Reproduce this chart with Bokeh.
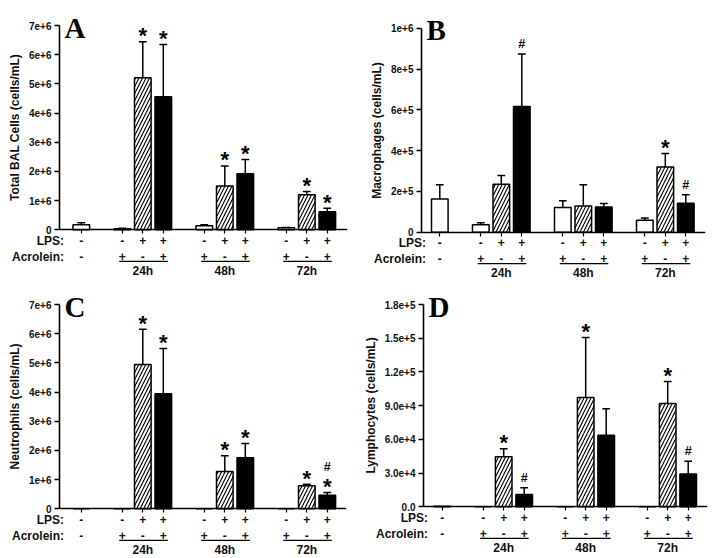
from bokeh.plotting import figure
from bokeh.layouts import column, row
from bokeh.models import (Range1d, FixedTicker, Label, ColumnDataSource, CustomLabelingPolicy)
from bokeh.core.properties import value
from bokeh.embed import file_html
from bokeh.resources import INLINE

# ---------------- data ----------------
positions = [0, 2, 3, 4, 6, 7, 8, 10, 11, 12]
bar_kind = ["white", "white", "hatch", "black", "white", "hatch", "black", "white", "hatch", "black"]
row_titles = ["LPS:", "Acrolein:"]
lps_row = ["-", "-", "+", "+", "-", "+", "+", "-", "+", "+"]
acrolein_row = ["-", "+", "-", "+", "+", "-", "+", "+", "-", "+"]
hour_labels = ["24h", "48h", "72h"]
hour_first = [2, 6, 10]
hour_mid = [3, 7, 11]
hour_last = [4, 8, 12]

total_bal = [0.17e6, 0.04e6, 5.21e6, 4.56e6, 0.14e6, 1.50e6, 1.92e6, 0.07e6, 1.20e6, 0.62e6]
total_bal_err = [0.07e6, 0.01e6, 1.23e6, 1.79e6, 0.03e6, 0.69e6, 0.49e6, 0.01e6, 0.11e6, 0.12e6]
total_bal_sig = ["", "", "*", "*", "", "*", "*", "", "*", "*"]

macrophages = [1.63e5, 0.36e5, 2.35e5, 6.16e5, 1.21e5, 1.29e5, 1.23e5, 0.59e5, 3.19e5, 1.42e5]
macrophages_err = [0.69e5, 0.10e5, 0.43e5, 2.58e5, 0.33e5, 1.03e5, 0.18e5, 0.11e5, 0.67e5, 0.41e5]
macrophages_sig = ["", "", "", "#", "", "", "", "", "*", "#"]

neutrophils = [0.0, 0.0, 4.94e6, 3.94e6, 0.0, 1.28e6, 1.75e6, 0.0, 0.79e6, 0.46e6]
neutrophils_err = [0.0, 0.0, 1.21e6, 1.55e6, 0.0, 0.54e6, 0.49e6, 0.0, 0.05e6, 0.10e6]
neutrophils_sig = ["", "", "*", "*", "", "*", "*", "", "*", "*#"]

lymphocytes = [400, 0, 4.45e4, 1.10e4, 100, 9.72e4, 6.37e4, 100, 9.19e4, 2.91e4]
lymphocytes_err = [0, 0, 0.71e4, 0.59e4, 0, 5.34e4, 2.35e4, 0, 1.96e4, 1.15e4]
lymphocytes_sig = ["", "", "*", "#", "", "*", "", "", "*", "#"]

ticks_7e6 = [0, 1e6, 2e6, 3e6, 4e6, 5e6, 6e6, 7e6]
ticklabels_7e6 = ["0", "1e+6", "2e+6", "3e+6", "4e+6", "5e+6", "6e+6", "7e+6"]
ticks_1e6 = [0, 2e5, 4e5, 6e5, 8e5, 1e6]
ticklabels_1e6 = ["0", "2e+5", "4e+5", "6e+5", "8e+5", "1e+6"]
ticks_18e5 = [0, 3e4, 6e4, 9e4, 1.2e5, 1.5e5, 1.8e5]
ticklabels_18e5 = ["0.0", "3.0e+4", "6.0e+4", "9.0e+4", "1.2e+5", "1.5e+5", "1.8e+5"]

# ---------------- layout constants (pixels) ----------------
PW, PH = 357, 279
PPU = 20.5          # pixels per bar slot
FONT = "Liberation Sans"
TXT = "#111111"


def make_panel(letter, vals, errs, sigs, ticks, ticklabels, ylabel,
               left, right, ctrl_px, top_px, zero_px):
    ymax = ticks[-1]
    upp = ymax / (zero_px - top_px)
    y0 = -(PH - zero_px) * upp
    y1 = ymax + top_px * upp
    xs_frame = -ctrl_px / PPU                 # data x at the panel's left edge
    xs_axis = -(ctrl_px - left) / PPU         # data x of the y axis line
    xe = xs_frame + (PW - right) / PPU

    p = figure(width=PW, height=PH, output_backend="svg", toolbar_location=None,
               x_range=Range1d(xs_frame, xe), y_range=Range1d(y0, y1),
               min_border_left=0, min_border_right=right,
               min_border_top=0, min_border_bottom=0)
    p.outline_line_color = None
    p.xgrid.visible = False
    p.ygrid.visible = False

    # y axis (drawn at its data location)
    ya = p.yaxis[0]
    ya.fixed_location = xs_axis
    ya.ticker = FixedTicker(ticks=ticks)
    ya.major_label_overrides = {t: l for t, l in zip(ticks, ticklabels)}
    ya.bounds = (0, ymax)
    ya.minor_tick_line_color = None
    ya.major_tick_in = 0
    ya.major_tick_out = 5
    ya.axis_line_width = 1.6
    ya.major_tick_line_width = 1.4
    ya.major_label_text_font = FONT
    ya.major_label_text_font_size = "10px"
    ya.major_label_text_font_style = "bold"
    ya.major_label_text_color = TXT
    ya.major_label_standoff = 3
    ya.axis_label = ylabel
    ya.axis_label_text_font = FONT
    ya.axis_label_text_font_size = "12px"
    ya.axis_label_text_font_style = "bold"
    ya.axis_label_text_color = TXT
    ya.axis_label_standoff = 4

    # x axis at zero (tick marks only)
    xa = p.xaxis[0]
    xa.fixed_location = 0
    xa.bounds = (xs_axis, xe)
    xa.ticker = FixedTicker(ticks=positions)
    xa.major_label_policy = CustomLabelingPolicy(
        code="const all = [...indices]; for (const i of all) indices.unset(i)")
    xa.major_label_standoff = 0
    xa.major_label_text_font_size = "10px"
    xa.minor_tick_line_color = None
    xa.major_tick_in = 0
    xa.major_tick_out = 4
    xa.axis_line_width = 1.6
    xa.major_tick_line_width = 1.2

    # bars
    for kind in ["white", "hatch", "black"]:
        idx = [i for i, k in enumerate(bar_kind) if k == kind]
        src = ColumnDataSource(dict(x=[positions[i] for i in idx], top=[vals[i] for i in idx]))
        if kind == "black":
            p.vbar(x="x", top="top", bottom=0, width=0.81, source=src,
                   fill_color="black", line_color="black", line_width=1.5)
        elif kind == "hatch":
            p.vbar(x="x", top="top", bottom=0, width=0.81, source=src,
                   fill_color="white", line_color="black", line_width=1.5,
                   hatch_pattern="/", hatch_color="black", hatch_scale=7, hatch_weight=1.1)
        else:
            p.vbar(x="x", top="top", bottom=0, width=0.81, source=src,
                   fill_color="white", line_color="black", line_width=1.5)

    # error bars (upper only)
    eidx = [i for i in range(len(vals)) if errs[i] > 0]
    ex = [positions[i] for i in eidx]
    eb = [vals[i] for i in eidx]
    et = [vals[i] + errs[i] for i in eidx]
    p.segment(x0=ex, y0=eb, x1=ex, y1=et, line_color="black", line_width=1.5)
    p.segment(x0=[x - 0.19 for x in ex], y0=et, x1=[x + 0.19 for x in ex], y1=et,
              line_color="black", line_width=1.5)

    # significance marks
    star_x, star_y, hash_x, hash_y, hash_off = [], [], [], [], []
    for i, s in enumerate(sigs):
        if not s:
            continue
        top = vals[i] + errs[i]
        if "*" in s:
            star_x.append(positions[i]); star_y.append(top)
        if "#" in s:
            hash_x.append(positions[i]); hash_y.append(top)
            hash_off.append(-25 if "*" in s else -10)
    if star_x:
        p.text(x=star_x, y=star_y, text=["*"] * len(star_x), y_offset=-6,
               text_align="center", text_baseline="alphabetic",
               text_font=value(FONT), text_font_style="bold", text_font_size="22px",
               text_color="black")
    if hash_x:
        p.text(x=hash_x, y=hash_y, text=["#"] * len(hash_x), y_offset=hash_off,
               text_align="center", text_baseline="alphabetic",
               text_font=value(FONT), text_font_style="bold", text_font_size="12.5px",
               text_color="black")

    # row titles, sign rows, underlines and hour labels
    p.text(x=[xs_axis] * 2, y=[0, 0], text=row_titles, x_offset=4.5, y_offset=[10.7, 26.7],
           text_align="right", text_baseline="middle",
           text_font=value(FONT), text_font_style="bold", text_font_size="12px",
           text_color=TXT)
    p.text(x=positions, y=[0] * len(positions), text=lps_row, y_offset=10.7,
           text_align="center", text_baseline="middle",
           text_font=value(FONT), text_font_style="bold", text_font_size="12px",
           text_color=TXT)
    p.text(x=positions, y=[0] * len(positions), text=acrolein_row, y_offset=26.7,
           text_align="center", text_baseline="middle",
           text_font=value(FONT), text_font_style="bold", text_font_size="12px",
           text_color=TXT)
    yline = -31.5 * upp
    p.segment(x0=[f - 0.15 for f in hour_first], y0=[yline] * 3,
              x1=[l + 0.22 for l in hour_last], y1=[yline] * 3,
              line_color="black", line_width=1.3)
    p.text(x=hour_mid, y=[0] * 3, text=hour_labels, y_offset=41,
           text_align="center", text_baseline="middle",
           text_font=value(FONT), text_font_style="bold", text_font_size="12px",
           text_color=TXT)

    p.add_layout(Label(x=xs_axis, y=ymax, x_offset=5, y_offset=-2, text=letter,
                       text_align="left", text_baseline="alphabetic",
                       text_font="Liberation Serif", text_font_style="bold",
                       text_font_size="29px", text_color="black"))
    return p


pA = make_panel("A", total_bal, total_bal_err, total_bal_sig, ticks_7e6, ticklabels_7e6,
                "Total BAL Cells (cells/mL)", 59, 10, 80.8, 25, 229.3)
pB = make_panel("B", macrophages, macrophages_err, macrophages_sig, ticks_1e6, ticklabels_1e6,
                "Macrophages (cells/mL)", 64, 9, 82.3, 27.7, 231.7)
pC = make_panel("C", neutrophils, neutrophils_err, neutrophils_sig, ticks_7e6, ticklabels_7e6,
                "Neutrophils (cells/mL)", 59, 11, 80.8, 25, 229.3)
pD = make_panel("D", lymphocytes, lymphocytes_err, lymphocytes_sig, ticks_18e5, ticklabels_18e5,
                "Lymphocytes (cells/mL)", 66, 7, 84.7, 25, 227.3)

layout = column(row(pA, pB), row(pC, pD))
open("out.html", "w").write(file_html(layout, INLINE))
